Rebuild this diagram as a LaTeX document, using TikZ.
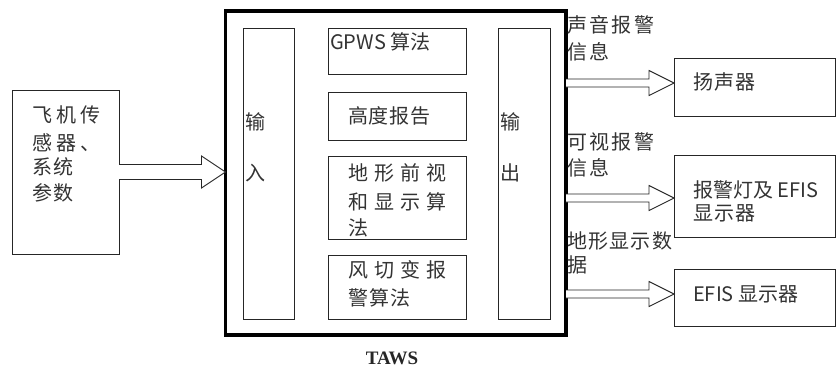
\documentclass[tikz,border=0pt]{standalone}
\usepackage{fontspec}
\setmainfont{Noto Sans CJK SC}
\newfontfamily\tawsfont{Liberation Serif}
\usetikzlibrary{calc}
\newcommand\spr[2]{\makebox[#1pt][s]{#2}}
% hollow arrow: start, end, shaft half width, head half width, head length
\newcommand\harrow[5]{%
  \draw[arrline] let \p1=(#1), \p2=(#2) in
    (\x1,\y1+#3pt) -- (\x2-#5pt,\y1+#3pt) -- (\x2-#5pt,\y1+#4pt) -- (\x2,\y1)
    -- (\x2-#5pt,\y1-#4pt) -- (\x2-#5pt,\y1-#3pt) -- (\x1,\y1-#3pt);}
\tikzset{
  box/.style={draw=black!85, line width=0.9pt, inner sep=0, outer sep=0},
  bigbox/.style={draw=black, line width=3.5pt, inner sep=0, outer sep=0},
  arrline/.style={draw=black!85, line width=0.9pt, fill=white, line join=miter},
  txt/.style={anchor=west, inner sep=0, text=black!80, font=\fontsize{20}{20}\selectfont},
}
\begin{document}
\begin{tikzpicture}[x=1pt,y=-1pt]
\useasboundingbox[fill=white] (0,0) rectangle (837,370);

% boxes
\node[box, minimum width=107pt, minimum height=164pt] (sensor) at (65.5,172) {};
\node[bigbox, minimum width=340.5pt, minimum height=324pt] (taws) at (395.75,173) {};
\node[box, minimum width=51pt, minimum height=291pt] (in) at (268.5,173.5) {};
\node[box, minimum width=52pt, minimum height=291pt] (out) at (524,173.5) {};
\node[box, minimum width=138pt, minimum height=46pt] (gpws) at (397,51) {};
\node[box, minimum width=138pt, minimum height=48pt] (alt) at (397,116) {};
\node[box, minimum width=138pt, minimum height=83pt] (terr) at (397,197.5) {};
\node[box, minimum width=138pt, minimum height=64pt] (wind) at (397,287) {};
\node[box, minimum width=161pt, minimum height=58pt] (spk) at (754.5,87) {};
\node[box, minimum width=161pt, minimum height=82pt] (alarm) at (754.5,196) {};
\node[box, minimum width=161pt, minimum height=57pt] (efis) at (754.5,297.5) {};

% arrows
\harrow{sensor.east}{taws.west}{7.5}{16}{24}
\harrow{taws.east |- 0,83}{spk.west}{4}{12.5}{25}
\harrow{taws.east |- 0,198}{alarm.west}{4}{12.5}{25}
\harrow{taws.east |- 0,294}{efis.west}{4}{12.5}{25}

% sensor text
\node[txt] (s1) at (32,115) {\spr{68}{飞\hfill 机\hfill 传}};
\node[txt] (s2) at (32,143) {\spr{68}{感\hfill 器\hfill 、}};
\node[txt] (s3) at (32,167) {\spr{41}{系\hfill 统}};
\node[txt] (s4) at (32,193) {\spr{41}{参\hfill 数}};

% input / output
\node[txt] (i1) at (245,122) {输};
\node[txt] (i2) at (245,173) {入};
\node[txt] (o1) at (500,122) {输};
\node[txt] (o2) at (500,173) {出};

% centre texts
\node[txt] (g1) at (330,42) {GPWS 算法};
\node[txt] (a1) at (348,116) {\spr{82}{高\hfill 度\hfill 报\hfill 告}};
\node[txt] (t1) at (348,173) {\spr{98}{地\hfill 形\hfill 前\hfill 视}};
\node[txt] (t2) at (348,202) {\spr{98}{和\hfill 显\hfill 示\hfill 算}};
\node[txt] (t3) at (348,228) {法};
\node[txt] (w1) at (348,270) {\spr{98}{风\hfill 切\hfill 变\hfill 报}};
\node[txt] (w2) at (348,298) {\spr{62}{警\hfill 算\hfill 法}};

% right labels
\node[txt] (r1) at (567,25) {\spr{87}{声\hfill 音\hfill 报\hfill 警}};
\node[txt] (r2) at (567,52) {\spr{42}{信\hfill 息}};
\node[txt] (r3) at (567,142) {\spr{87}{可\hfill 视\hfill 报\hfill 警}};
\node[txt] (r4) at (567,168) {\spr{42}{信\hfill 息}};
\node[txt] (r5) at (567,241) {\spr{105}{地\hfill 形\hfill 显\hfill 示\hfill 数}};
\node[txt] (r6) at (567,265) {据};

\node[txt] (k1) at (693,82) {\spr{62}{扬\hfill 声\hfill 器}};
\node[txt] (k2) at (693,190) {报警灯及 EFIS};
\node[txt] (k3) at (693,213) {\spr{62}{显\hfill 示\hfill 器}};
\node[txt] (k4) at (693,294) {EFIS 显示器};

% caption
\node[inner sep=0, text=black!85, font=\tawsfont\bfseries\fontsize{19}{19}\selectfont] (cap) at (392,358) {TAWS};
\end{tikzpicture}
\end{document}
